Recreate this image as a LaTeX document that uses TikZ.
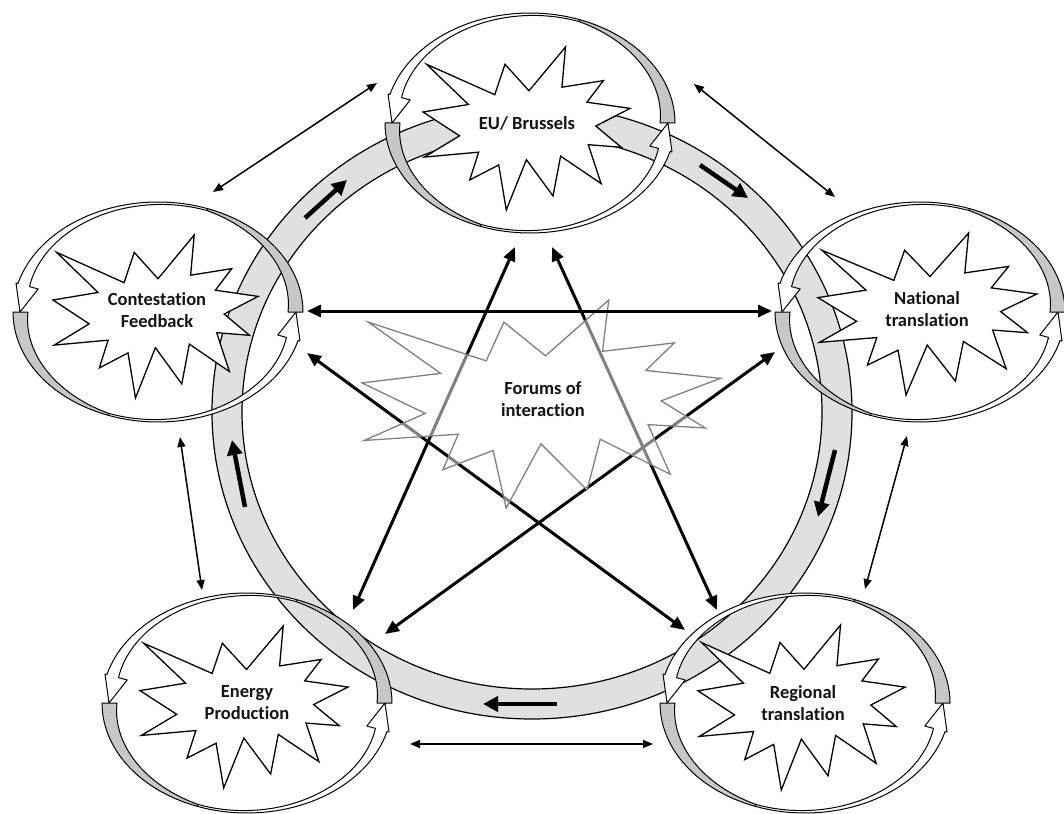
\documentclass[tikz,border=0pt]{standalone}
\usepackage{fontspec}
\setmainfont{Carlito}[Ligatures=NoCommon]
\usetikzlibrary{arrows.meta}
\tikzset{
  ringband/.style={fill=black!12, draw=black, line width=1.2pt, even odd rule},
  ringarrow/.style={line width=4.5pt, -{Triangle[length=15pt,width=15pt]}},
  thinarrow/.style={line width=1.5pt, {Triangle[length=10pt,width=8pt]}-{Triangle[length=10pt,width=8pt]}},
  thickarrow/.style={line width=3pt, {Triangle[length=14pt,width=12pt]}-{Triangle[length=14pt,width=12pt]}},
  loopback/.style={fill=black!22, draw=black, line width=1pt, line join=round},
  loopfront/.style={fill=white, draw=black, line width=1pt, line join=round},
  burst/.style={fill=white, draw=black, line width=1.3pt, line join=miter},
  forumburst/.style={fill=white, fill opacity=0.5, draw=black!50, line width=1.3pt},
  lbl/.style={font=\bfseries\fontsize{18.5}{22}\selectfont, align=center, text=black!92, inner sep=0pt}
}
% curved double arrow loop round a node centre
\newcommand\evloop[2]{%
  % lower arrow: tail (grey) at the left, head at the right
  \filldraw[loopback] plot[domain=180:110,samples=30,variable=\t] ({#1+145*cos(\t)},{#2+110*sin(\t)})
    -- plot[domain=110:180,samples=30,variable=\t] ({#1+(143-13*(\t-110)/70)*cos(\t)},{#2+(108-13*(\t-110)/70)*sin(\t)}) -- cycle;
  \filldraw[loopfront] plot[domain=110:15,samples=40,variable=\t] ({#1+145*cos(\t)},{#2+110*sin(\t)})
    -- ({#1+147*cos(15)},{#2+112*sin(15)}) -- ({#1+138},{#2}) -- ({#1+124*cos(15)},{#2+89*sin(15)})
    -- plot[domain=15:110,samples=40,variable=\t] ({#1+(143-10*((110-\t)/95)^2)*cos(\t)},{#2+(108-10*((110-\t)/95)^2)*sin(\t)}) -- cycle;
  % upper arrow: tail (grey) at the right, head at the left
  \filldraw[loopback] plot[domain=360:290,samples=30,variable=\t] ({#1+145*cos(\t)},{#2+110*sin(\t)})
    -- plot[domain=290:360,samples=30,variable=\t] ({#1+(143-13*(\t-290)/70)*cos(\t)},{#2+(108-13*(\t-290)/70)*sin(\t)}) -- cycle;
  \filldraw[loopfront] plot[domain=290:195,samples=40,variable=\t] ({#1+145*cos(\t)},{#2+110*sin(\t)})
    -- ({#1+147*cos(195)},{#2+112*sin(195)}) -- ({#1-138},{#2}) -- ({#1+124*cos(195)},{#2+89*sin(195)})
    -- plot[domain=195:290,samples=40,variable=\t] ({#1+(143-10*((290-\t)/95)^2)*cos(\t)},{#2+(108-10*((290-\t)/95)^2)*sin(\t)}) -- cycle;
}
% irregular starburst in the box (x0,y0) width W height H
\newcommand\seal[5]{%
  \filldraw[#1] ({#2+0.5*#4},{#3+0.2685*#5}) -- ({#2+0.6723*#4},{#3}) -- ({#2+0.6553*#4},{#3+0.2465*#5})
   -- ({#2+0.8509*#4},{#3+0.2063*#5}) -- ({#2+0.7732*#4},{#3+0.3387*#5}) -- ({#2+0.9767*#4},{#3+0.3767*#5})
   -- ({#2+0.8151*#4},{#3+0.4850*#5}) -- ({#2+0.9354*#4},{#3+0.6153*#5}) -- ({#2+0.7795*#4},{#3+0.5992*#5})
   -- ({#2+0.8400*#4},{#3+0.8377*#5}) -- ({#2+0.6491*#4},{#3+0.6693*#5}) -- ({#2+0.6133*#4},{#3+0.9138*#5})
   -- ({#2+0.4876*#4},{#3+0.6914*#5}) -- ({#2+0.3928*#4},{#3+#5}) -- ({#2+0.3572*#4},{#3+0.7235*#5})
   -- ({#2+0.2205*#4},{#3+0.8156*#5}) -- ({#2+0.2624*#4},{#3+0.6452*#5}) -- ({#2+0.00625*#4},{#3+0.6753*#5})
   -- ({#2+0.1723*#4},{#3+0.5451*#5}) -- ({#2},{#3+0.3988*#5}) -- ({#2+0.2142*#4},{#3+0.3526*#5})
   -- ({#2+0.0171*#4},{#3+0.1063*#5}) -- ({#2+0.3385*#4},{#3+0.2926*#5}) -- ({#2+0.3867*#4},{#3+0.1063*#5}) -- cycle;
}
\begin{document}
\begin{tikzpicture}[x=1pt,y=-1pt]
\useasboundingbox (0,0) rectangle (1064,813);
\clip (0,0) rectangle (1064,813);
\fill[white] (0,0) rectangle (1064,813);

% big ring
\filldraw[ringband] (532,412) ellipse [x radius=320pt, y radius=307pt]
                    (532,412) ellipse [x radius=290pt, y radius=277pt];
\coordinate (r1s) at (305,218); \coordinate (r1e) at (347,180);
\coordinate (r2s) at (700,165); \coordinate (r2e) at (748,198);
\coordinate (r3s) at (835,450); \coordinate (r3e) at (818,517);
\coordinate (r4s) at (557,704); \coordinate (r4e) at (483,704);
\coordinate (r5s) at (245,507); \coordinate (r5e) at (232,440);
\draw[ringarrow] (r1s) -- (r1e);
\draw[ringarrow] (r2s) -- (r2e);
\draw[ringarrow] (r3s) -- (r3e);
\draw[ringarrow] (r4s) -- (r4e);
\draw[ringarrow] (r5s) -- (r5e);

% connector end points
\coordinate (cf-ne) at (213,192);  \coordinate (eu-w)  at (377,83);
\coordinate (eu-e)  at (694,84);   \coordinate (nt-nw) at (835,197);
\coordinate (nt-s)  at (907,436);  \coordinate (rt-n)  at (865,589);
\coordinate (rt-w)  at (653,744);  \coordinate (ep-e)  at (410,744);
\coordinate (ep-n)  at (202,590);  \coordinate (cf-s)  at (180,437);
\coordinate (cf-e)  at (307,311);  \coordinate (nt-w)  at (772,311);
\coordinate (eu-sw) at (515,247);  \coordinate (ep-ne) at (353,610);
\coordinate (eu-se) at (552,247);  \coordinate (rt-nw) at (717,610);
\coordinate (cf-se) at (307,353);  \coordinate (rt-wn) at (685,630);
\coordinate (nt-sw) at (775,352);  \coordinate (ep-en) at (385,634);

% outer (pentagon) arrows
\draw[thinarrow] (cf-ne) -- (eu-w);
\draw[thinarrow] (eu-e) -- (nt-nw);
\draw[thinarrow] (nt-s) -- (rt-n);
\draw[thinarrow] (rt-w) -- (ep-e);
\draw[thinarrow] (ep-n) -- (cf-s);

% inner (star) arrows
\draw[thickarrow] (eu-sw) -- (ep-ne);
\draw[thickarrow] (eu-se) -- (rt-nw);
\draw[thickarrow] (cf-se) -- (rt-wn);
\draw[thickarrow] (nt-sw) -- (ep-en);

% the five actors
\evloop{530}{123}
\seal{burst}{423}{47}{212}{163}
\node[lbl] (eu) at (527,123) {EU/ Brussels};

\evloop{158}{312}
\seal{burst}{53}{235}{210}{163}
\node[lbl] (cf) at (157,310) {Contestation\\Feedback};

\evloop{920}{312}
\seal{burst}{818}{233}{224}{162}
\node[lbl] (nt) at (927,309) {National\\translation};

\evloop{247}{703}
\seal{burst}{140}{626}{213}{162}
\node[lbl] (ep) at (247,703) {Energy\\Production};

\evloop{805}{703}
\seal{burst}{698}{625}{212}{165}
\node[lbl] (rt) at (803,703) {Regional\\translation};

% forums of interaction
\seal{forumburst}{362}{300}{367}{208}
\node[lbl] (fi) at (543,399) {Forums of\\interaction};

\draw[thickarrow] (cf-e) -- (nt-w);
\end{tikzpicture}
\end{document}
